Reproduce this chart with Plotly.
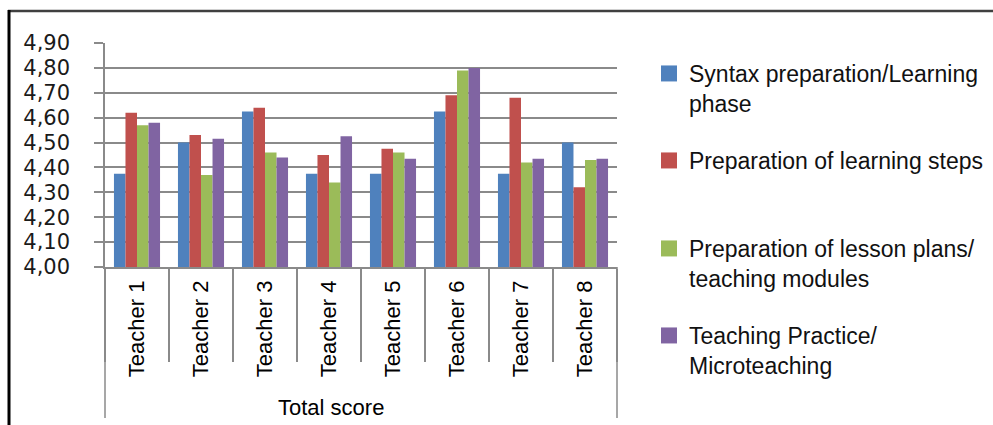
import plotly.graph_objects as go

teachers = ["Teacher 1", "Teacher 2", "Teacher 3", "Teacher 4",
            "Teacher 5", "Teacher 6", "Teacher 7", "Teacher 8"]
series_names = ["Syntax preparation/Learning<br>phase",
                "Preparation of learning steps",
                "Preparation of lesson plans/<br>teaching modules",
                "Teaching Practice/<br>Microteaching"]
syntax = [4.375, 4.50, 4.625, 4.375, 4.375, 4.625, 4.375, 4.50]
steps = [4.62, 4.53, 4.64, 4.45, 4.475, 4.69, 4.68, 4.32]
lesson = [4.57, 4.37, 4.46, 4.34, 4.46, 4.79, 4.42, 4.43]
practice = [4.58, 4.515, 4.44, 4.525, 4.435, 4.80, 4.435, 4.435]
colors = ["#4F81BD", "#C0504D", "#9BBB59", "#8064A2"]
y_ticks = [4.0, 4.1, 4.2, 4.3, 4.4, 4.5, 4.6, 4.7, 4.8, 4.9]
x_title = "Total score"

W, H = 993, 425
L, R, T, B = 105, 376, 43, 158
PW, PH = W - L - R, H - T - B


def px_x(p):
    return (p - L) / PW


def px_y(p):
    return (H - B - p) / PH


fig = go.Figure()
all_vals = [syntax, steps, lesson, practice]
legend_tops = [52, 139, 227, 314]
for i, (name, vals, col) in enumerate(zip(series_names, all_vals, colors)):
    fig.add_trace(go.Bar(x=teachers, y=vals, name=name, marker_color=col,
                         marker_line_width=0, showlegend=False))
    lg = "legend" if i == 0 else f"legend{i+1}"
    fig.add_trace(go.Scatter(x=[None], y=[None], mode="markers", name=name,
                             marker=dict(symbol="square", size=16, color=col),
                             legend=lg, showlegend=True))

fig.update_layout(barmode="group", bargap=0.28, bargroupgap=0)

font_txt = "Liberation Sans, Arial, sans-serif"
for i, top in enumerate(legend_tops):
    key = "legend" if i == 0 else f"legend{i+1}"
    fig.update_layout(**{key: dict(x=px_x(649), y=px_y(top), xanchor="left", yanchor="top",
                                   valign="top", bgcolor="rgba(0,0,0,0)",
                                   font=dict(family=font_txt, size=23, color="#111111"),
                                   itemclick=False)})

fig.update_layout(
    width=W, height=H,
    margin=dict(l=L, r=R, t=T, b=B, autoexpand=False),
    paper_bgcolor="white", plot_bgcolor="white",
    separators=", ",
    xaxis=dict(type="category", categoryarray=teachers, range=[-0.5, 7.5],
               showline=True, linecolor="#8a8a8a", linewidth=1.5,
               ticks="outside", tickson="boundaries", ticklen=93,
               tickcolor="#8a8a8a", tickwidth=1.5,
               tickangle=-90, ticklabelstandoff=3,
               tickfont=dict(family=font_txt, size=22, color="#000000"),
               showgrid=False, automargin=False),
    yaxis=dict(range=[4.0, 4.9], tickvals=y_ticks, tickformat=".2f",
               showline=True, linecolor="#8a8a8a", linewidth=1.5,
               showgrid=True, gridcolor="#8a8a8a", gridwidth=1.5,
               ticks="outside", ticklen=9, tickcolor="#8a8a8a", tickwidth=1.5,
               ticklabelstandoff=20, zeroline=False,
               tickfont=dict(family="DejaVu Sans, Verdana, sans-serif", size=21,
                             color="#1a1a1a"),
               automargin=False),
)

fig.add_annotation(text=x_title, xref="paper", yref="paper",
                   x=px_x(331), y=px_y(407), xanchor="center", yanchor="middle",
                   showarrow=False, font=dict(family=font_txt, size=22, color="#000000"))

# outer category boundaries extended for the group label
for xp in (0, 1):
    fig.add_shape(type="line", xref="paper", yref="paper", x0=xp, x1=xp,
                  y0=0, y1=px_y(418), line=dict(color="#8a8a8a", width=1.5))

# outer frame
fig.add_shape(type="line", xref="paper", yref="paper", x0=px_x(8), x1=px_x(1000),
              y0=px_y(11), y1=px_y(11), line=dict(color="#404040", width=2.5))
fig.add_shape(type="line", xref="paper", yref="paper", x0=px_x(9), x1=px_x(9),
              y0=px_y(10), y1=px_y(430), line=dict(color="#000000", width=3))

fig.write_html("out.html", config={"displayModeBar": False},
               post_script="document.body.style.margin='0px';document.body.style.overflow='hidden';")
